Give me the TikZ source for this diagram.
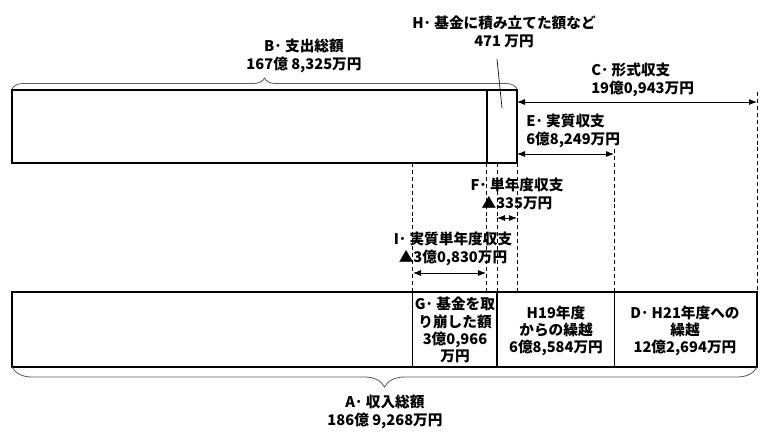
\documentclass[tikz,border=0pt]{standalone}
\usepackage{fontspec}
\setmainfont{Noto Sans CJK JP}
\usetikzlibrary{arrows.meta,decorations.pathreplacing}
\newcommand\lbfont{\fontsize{11pt}{13.5pt}\selectfont\bfseries}
\newcommand\bxfont{\fontsize{11pt}{12.9pt}\selectfont\bfseries}
\tikzset{
  bar/.style={draw=black, line width=0.8pt},
  thickdiv/.style={draw=black, line width=1.5pt},
  thindiv/.style={draw=black, line width=0.6pt},
  guide/.style={draw=black, line width=0.5pt, dash pattern=on 3pt off 2.2pt},
  dimarrow/.style={draw=black, line width=0.6pt, {Latex[length=6pt,width=4.5pt]}-{Latex[length=6pt,width=4.5pt]}},
  brc/.style={draw=black!65, line width=0.6pt, decorate},
  lbl/.style={font=\lbfont, align=center, inner sep=0pt},
  lbll/.style={font=\lbfont, align=left, inner sep=0pt, anchor=west},
  bxt/.style={font=\bxfont, align=center, inner sep=0pt},
  ptr/.style={draw=black, line width=0.5pt}
}
\begin{document}
\begin{tikzpicture}[x=0.75pt,y=-0.75pt]
\useasboundingbox[fill=white] (0,0) rectangle (768,440);

% top bar (expenditure)
\coordinate (tbTL) at (12,90);
\coordinate (tbBR) at (517,163);
\draw[bar] (tbTL) rectangle (tbBR);
\coordinate (hdivT) at (487,90);
\coordinate (hdivB) at (487,163);
\draw[thickdiv] (hdivT) -- (hdivB);

% bottom bar (revenue)
\coordinate (bbTL) at (12,292);
\coordinate (bbBR) at (757,367);
\draw[bar] (bbTL) rectangle (bbBR);
\coordinate (d1T) at (412,292); \coordinate (d1B) at (412,367);
\coordinate (d2T) at (497,292); \coordinate (d2B) at (497,367);
\coordinate (d3T) at (614,292); \coordinate (d3B) at (614,367);
\draw[thindiv] (d1T) -- (d1B);
\draw[thickdiv] (d2T) -- (d2B);
\draw[thindiv] (d3T) -- (d3B);

% guide lines
\coordinate (g1T) at (412,163); \coordinate (g1B) at (412,292);
\coordinate (g2T) at (486,163); \coordinate (g2B) at (486,292);
\coordinate (g3T) at (497,163); \coordinate (g3B) at (497,292);
\coordinate (g4T) at (517,163); \coordinate (g4B) at (517,292);
\coordinate (g5T) at (614,149); \coordinate (g5B) at (614,292);
\coordinate (g6T) at (757,92);  \coordinate (g6B) at (757,292);
\foreach \g in {g1,g2,g3,g4,g5,g6} \draw[guide] (\g T) -- (\g B);

% braces
\coordinate (brTL) at (12,89); \coordinate (brTR) at (517,89);
\draw[brc, decoration={brace, amplitude=8.25pt}] (brTL) -- (brTR);
\coordinate (brBR) at (757,367); \coordinate (brBL) at (12,367);
\draw[brc, decoration={brace, amplitude=15pt}] (brBR) -- (brBL);

% dimension arrows
\coordinate (cL) at (517,102); \coordinate (cR) at (757,102);
\draw[dimarrow] (cL) -- (cR);
\coordinate (eL) at (517,154); \coordinate (eR) at (614,154);
\draw[dimarrow] (eL) -- (eR);
\coordinate (fL) at (497,218); \coordinate (fR) at (517,218);
\draw[dimarrow] (fL) -- (fR);
\coordinate (iL) at (413,273); \coordinate (iR) at (486,273);
\draw[dimarrow] (iL) -- (iR);

% labels
\node[lbl] (lblB) at (304,56) {B･ 支出総額\\167億 8,325万円};
\node[lbl] (lblH) at (504,32) {H･ 基金に積み立てた額など\\471 万円};
\coordinate (hptrS) at (497,59);
\coordinate (hptrE) at (502,108);
\draw[ptr] (hptrS) -- (hptrE);
\node[lbll] (lblC) at (591,80) {C･ 形式収支\\19億0,943万円};
\node[lbll] (lblE) at (526,131) {E･ 実質収支\\6億8,249万円};
\node[lbl] (lblF) at (517,194) {F･ 単年度収支\\▲335万円};
\node[lbl] (lblI) at (453,249) {I･ 実質単年度収支\\▲3億0,830万円};
\node[lbl] (lblA) at (385,412) {A･ 収入総額\\186億 9,268万円};

% box texts
\node[bxt] (boxG) at (455,330) {G･ 基金を取\\り崩した額\\3億0,966\\万円};
\node[bxt] (boxH19) at (556,331) {H19年度\\からの繰越\\6億8,584万円};
\node[bxt] (boxD) at (685,331) {D･ H21年度への\\繰越\\12億2,694万円};
\end{tikzpicture}
\end{document}
